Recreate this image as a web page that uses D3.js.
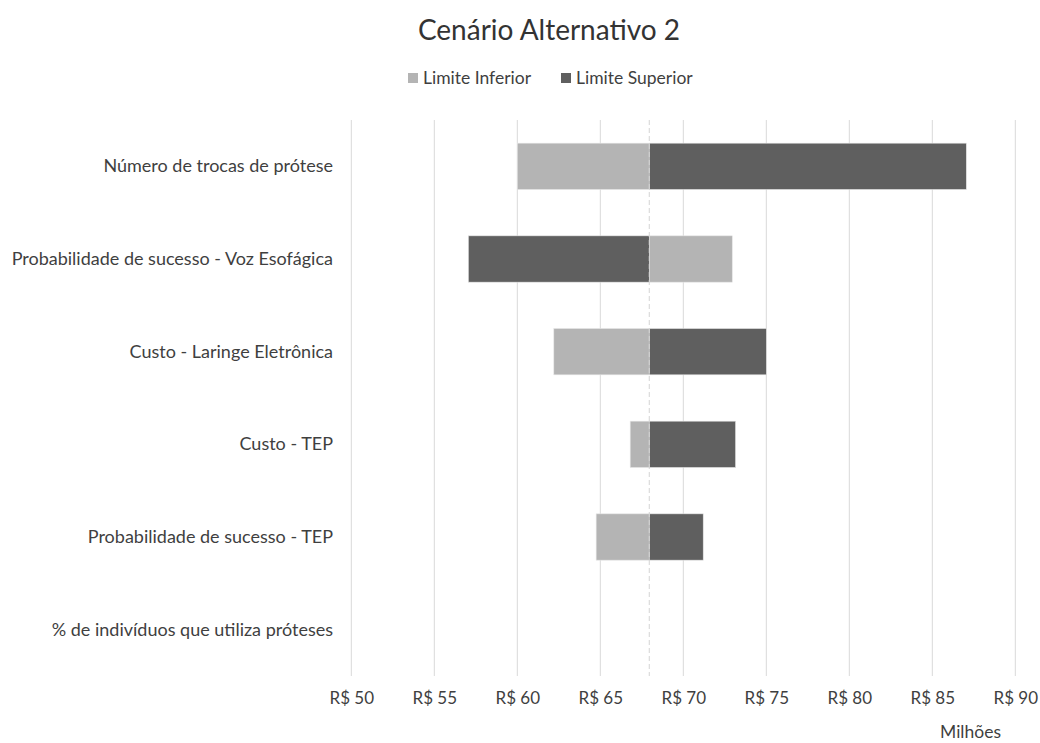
<!DOCTYPE html>
<html>
<head>
<meta charset="utf-8">
<script src="https://cdn.jsdelivr.net/npm/d3@7"></script>
<style>
  html, body { margin: 0; padding: 0; background: #fff; }
  svg { display: block; font-family: Lato, "Open Sans", sans-serif; }
</style>
</head>
<body>
<svg id="chart" width="1040" height="743"></svg>
<script>
const title = "Cenário Alternativo 2";
const categories = [
  "Número de trocas de prótese",
  "Probabilidade de sucesso - Voz Esofágica",
  "Custo - Laringe Eletrônica",
  "Custo - TEP",
  "Probabilidade de sucesso - TEP",
  "% de indivíduos que utiliza próteses"
];
const baseValue = 67.95;
const limiteInferior = [60.0, 72.95, 62.2, 66.8, 64.75, 67.95];
const limiteSuperior = [87.05, 57.05, 75.0, 73.15, 71.2, 67.95];
const seriesNames = ["Limite Inferior", "Limite Superior"];
const tickValues = [50, 55, 60, 65, 70, 75, 80, 85, 90];
const unitLabel = "Milhões";

const colors = { "Limite Inferior": "#b4b4b4", "Limite Superior": "#5f5f5f" };
const textColor = "#3f3f3f";

const svg = d3.select("#chart");
const x = d3.scaleLinear().domain([50, 90]).range([351.3, 1015.3]);
const y = d3.scaleBand().domain(categories).range([120, 676]).paddingInner(0.5).paddingOuter(0.25);

// gridlines
svg.append("g").selectAll("line").data(tickValues).join("line")
  .attr("x1", d => x(d)).attr("x2", d => x(d))
  .attr("y1", 120).attr("y2", 676)
  .attr("stroke", "#d9d9d9").attr("stroke-width", 1);

// bars
const rows = categories.map((c, i) => ({ c, inf: limiteInferior[i], sup: limiteSuperior[i] }));
const barData = [];
rows.forEach(r => {
  barData.push({ c: r.c, s: "Limite Inferior", v: r.inf });
  barData.push({ c: r.c, s: "Limite Superior", v: r.sup });
});
svg.append("g").selectAll("rect").data(barData.filter(d => d.v !== baseValue)).join("rect")
  .attr("x", d => x(Math.min(d.v, baseValue)))
  .attr("width", d => Math.abs(x(d.v) - x(baseValue)))
  .attr("y", d => y(d.c))
  .attr("height", y.bandwidth())
  .attr("fill", d => colors[d.s])
  .attr("stroke", "#e6e6e6").attr("stroke-width", 0.6);

// base dashed line
svg.append("line")
  .attr("x1", x(baseValue)).attr("x2", x(baseValue))
  .attr("y1", 120).attr("y2", 676)
  .attr("stroke", "#d4d4d4").attr("stroke-width", 1).attr("stroke-dasharray", "5,3");

// x axis labels
const xAxis = d3.axisBottom(x).tickValues(tickValues).tickSize(0).tickPadding(0)
  .tickFormat(d => "R$ " + d);
const gx = svg.append("g").attr("transform", "translate(0,704)").call(xAxis);
gx.select(".domain").remove();
gx.selectAll("text").attr("fill", textColor).attr("font-size", 17).attr("dy", 0)
  .attr("font-family", "Lato, sans-serif");

svg.append("text").attr("x", 1001).attr("y", 738).attr("text-anchor", "end")
  .attr("fill", textColor).attr("font-size", 17.5).text(unitLabel);

// y labels
svg.append("g").selectAll("text").data(categories).join("text")
  .attr("x", 333).attr("y", d => y(d) + y.bandwidth() / 2 + 6)
  .attr("text-anchor", "end").attr("fill", textColor).attr("font-size", 18)
  .text(d => d);

// title
svg.append("text").attr("x", 549).attr("y", 40).attr("text-anchor", "middle")
  .attr("fill", "#333").attr("font-size", 28).text(title);

// legend
const legendX = [408, 561];
const lg = svg.append("g").selectAll("g").data(seriesNames).join("g")
  .attr("transform", (d, i) => `translate(${legendX[i]},73)`);
lg.append("rect").attr("x", 0).attr("y", 0).attr("width", 10).attr("height", 10)
  .attr("fill", d => colors[d]);
lg.append("text").attr("x", 15).attr("y", 11).attr("fill", textColor).attr("font-size", 17.5)
  .text(d => d);
</script>
</body>
</html>
